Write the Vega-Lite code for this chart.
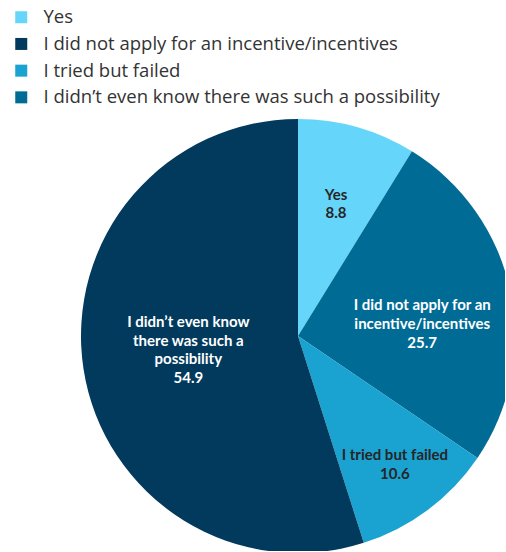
{
  "$schema": "https://vega.github.io/schema/vega-lite/v6.json",
  "width": 414,
  "height": 430,
  "autosize": {"type": "none"},
  "padding": {"left": 91, "top": 121, "right": 0, "bottom": 0},
  "background": "white",
  "config": {"view": {"stroke": null}},
  "data": {
    "values": [
      {"category": "Yes", "wrapped": "Yes", "value": 8.8, "order": 1},
      {"category": "I did not apply for an incentive/incentives", "wrapped": "I did not apply for an\nincentive/incentives", "value": 25.7, "order": 2},
      {"category": "I tried but failed", "wrapped": "I tried but failed", "value": 10.6, "order": 3},
      {"category": "I didn’t even know there was such a possibility", "wrapped": "I didn’t even know\nthere was such a\npossibility", "value": 54.9, "order": 4}
    ]
  },
  "transform": [
    {"calculate": "datum.wrapped + '\\n' + format(datum.value, '.1f')", "as": "lab"}
  ],
  "encoding": {
    "theta": {"field": "value", "type": "quantitative", "stack": true},
    "order": {"field": "order", "type": "quantitative", "sort": "ascending"}
  },
  "layer": [
    {
      "mark": {"type": "arc", "outerRadius": 217, "stroke": null},
      "encoding": {
        "color": {
          "field": "category",
          "type": "nominal",
          "scale": {
            "domain": ["Yes", "I didn’t even know there was such a possibility", "I tried but failed", "I did not apply for an incentive/incentives"],
            "range": ["#66d5fa", "#023a5d", "#1aa2d0", "#006c96"]
          },
          "legend": {
            "orient": "none",
            "legendX": -79,
            "legendY": -113,
            "title": null,
            "symbolType": "square",
            "symbolSize": 144,
            "symbolStrokeWidth": 0,
            "labelFont": "Open Sans",
            "labelFontSize": 18.5,
            "labelColor": "#333333",
            "labelOffset": 13,
            "rowPadding": 7.7,
            "labelLimit": 500,
            "labelExpr": "datum.label === 'I did not apply for an incentive/incentives' ? 'I didn’t even know there was such a possibility' : (datum.label === 'I didn’t even know there was such a possibility' ? 'I did not apply for an incentive/incentives' : datum.label)"
          }
        }
      }
    },
    {
      "mark": {"type": "text", "radius": 139, "dy": -7, "font": "Lato", "fontWeight": "bold", "fontSize": 15, "lineBreak": "\n", "lineHeight": 18, "color": "#262626", "align": "center", "baseline": "middle"},
      "encoding": {"text": {"condition": {"test": "datum.order === 1", "field": "lab"}, "value": ""}}
    },
    {
      "mark": {"type": "text", "radius": 127, "dy": -4, "font": "Lato", "fontWeight": "bold", "fontSize": 15, "lineBreak": "\n", "lineHeight": 19, "color": "white", "align": "center", "baseline": "middle"},
      "encoding": {"text": {"condition": {"test": "datum.order === 2", "field": "lab"}, "value": ""}}
    },
    {
      "mark": {"type": "text", "radius": 162, "dy": -11, "font": "Lato", "fontWeight": "bold", "fontSize": 15, "lineBreak": "\n", "lineHeight": 19, "color": "#262626", "align": "center", "baseline": "middle"},
      "encoding": {"text": {"condition": {"test": "datum.order === 3", "field": "lab"}, "value": ""}}
    },
    {
      "mark": {"type": "text", "radius": 111, "dy": -31, "font": "Lato", "fontWeight": "bold", "fontSize": 15, "lineBreak": "\n", "lineHeight": 18.5, "color": "white", "align": "center", "baseline": "middle"},
      "encoding": {"text": {"condition": {"test": "datum.order === 4", "field": "lab"}, "value": ""}}
    }
  ]
}
